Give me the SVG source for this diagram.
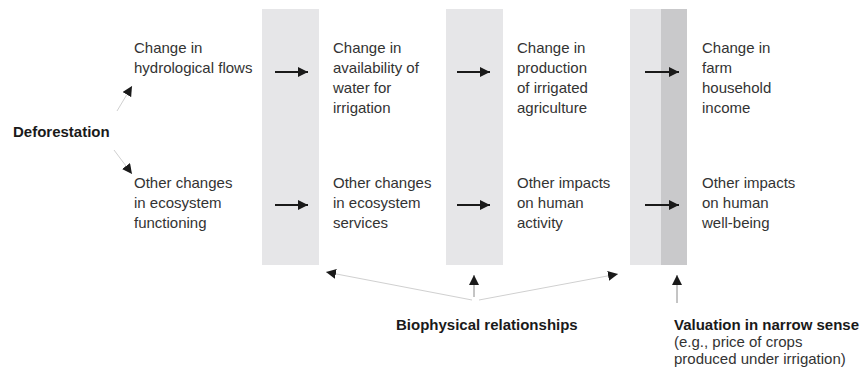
<svg xmlns="http://www.w3.org/2000/svg" width="865" height="369" viewBox="0 0 865 369">
<style>
.t{font-family:"Liberation Sans",Arial,sans-serif;font-size:15px;fill:#333}
.b{font-family:"Liberation Sans",Arial,sans-serif;font-size:15px;font-weight:bold;fill:#1a1a1a}
.band{fill:#e6e6e8}
.dark{fill:#c9c9cb}
.h{stroke:#1a1a1a;stroke-width:2;fill:none}
.d{stroke:#d0d0d0;stroke-width:1;fill:none}
.v{stroke:#8a8a8a;stroke-width:1;fill:none}
</style>
<defs>
<marker id="ah" markerUnits="userSpaceOnUse" markerWidth="10" markerHeight="10" refX="10" refY="5" orient="auto">
<path d="M0,0 L10,5 L0,10 z" fill="#1a1a1a"/>
</marker>
</defs>
<g id="bands">
<rect class="band" x="262" y="9" width="57" height="256"/>
<rect class="band" x="446" y="9" width="57" height="256"/>
<rect class="band" x="630" y="9" width="31" height="256"/>
<rect class="dark" x="661" y="9" width="26" height="256"/>
</g>
<g id="deforestation"><text class="b" x="13" y="137">Deforestation</text></g>
<g id="n-hydro"><text class="t" x="134" y="53">Change in</text><text class="t" x="134" y="73">hydrological flows</text></g>
<g id="n-ecofunc"><text class="t" x="134" y="188">Other changes</text><text class="t" x="134" y="208">in ecosystem</text><text class="t" x="134" y="228">functioning</text></g>
<g id="n-water"><text class="t" x="333" y="53">Change in</text><text class="t" x="333" y="73">availability of</text><text class="t" x="333" y="93">water for</text><text class="t" x="333" y="113">irrigation</text></g>
<g id="n-ecoserv"><text class="t" x="333" y="188">Other changes</text><text class="t" x="333" y="208">in ecosystem</text><text class="t" x="333" y="228">services</text></g>
<g id="n-prod"><text class="t" x="517" y="53">Change in</text><text class="t" x="517" y="73">production</text><text class="t" x="517" y="93">of irrigated</text><text class="t" x="517" y="113">agriculture</text></g>
<g id="n-activity"><text class="t" x="517" y="188">Other impacts</text><text class="t" x="517" y="208">on human</text><text class="t" x="517" y="228">activity</text></g>
<g id="n-income"><text class="t" x="702" y="53">Change in</text><text class="t" x="702" y="73">farm</text><text class="t" x="702" y="93">household</text><text class="t" x="702" y="113">income</text></g>
<g id="n-wellbeing"><text class="t" x="702" y="188">Other impacts</text><text class="t" x="702" y="208">on human</text><text class="t" x="702" y="228">well-being</text></g>
<g id="biophysical"><text class="b" x="396" y="330">Biophysical relationships</text></g>
<g id="valuation"><text class="b" x="674" y="330">Valuation in narrow sense</text><text class="t" x="674" y="347">(e.g., price of crops</text><text class="t" x="674" y="364">produced under irrigation)</text></g>
<g id="connectors">
<line class="d" x1="117" y1="111" x2="132" y2="86" marker-end="url(#ah)"/>
<line class="d" x1="114" y1="150" x2="132" y2="174" marker-end="url(#ah)"/>
<line class="h" x1="275" y1="72" x2="308" y2="72" marker-end="url(#ah)"/>
<line class="h" x1="457" y1="72" x2="490" y2="72" marker-end="url(#ah)"/>
<line class="h" x1="645" y1="72" x2="679" y2="72" marker-end="url(#ah)"/>
<line class="h" x1="275" y1="205" x2="308" y2="205" marker-end="url(#ah)"/>
<line class="h" x1="457" y1="205" x2="490" y2="205" marker-end="url(#ah)"/>
<line class="h" x1="645" y1="205" x2="679" y2="205" marker-end="url(#ah)"/>
<line class="d" x1="472" y1="300" x2="326" y2="272" marker-end="url(#ah)"/>
<line class="d" x1="479" y1="300" x2="618" y2="274" marker-end="url(#ah)"/>
<line class="v" x1="474" y1="297" x2="474" y2="275" marker-end="url(#ah)"/>
<line class="v" x1="677" y1="303" x2="677" y2="275" marker-end="url(#ah)"/>
</g>
</svg>
